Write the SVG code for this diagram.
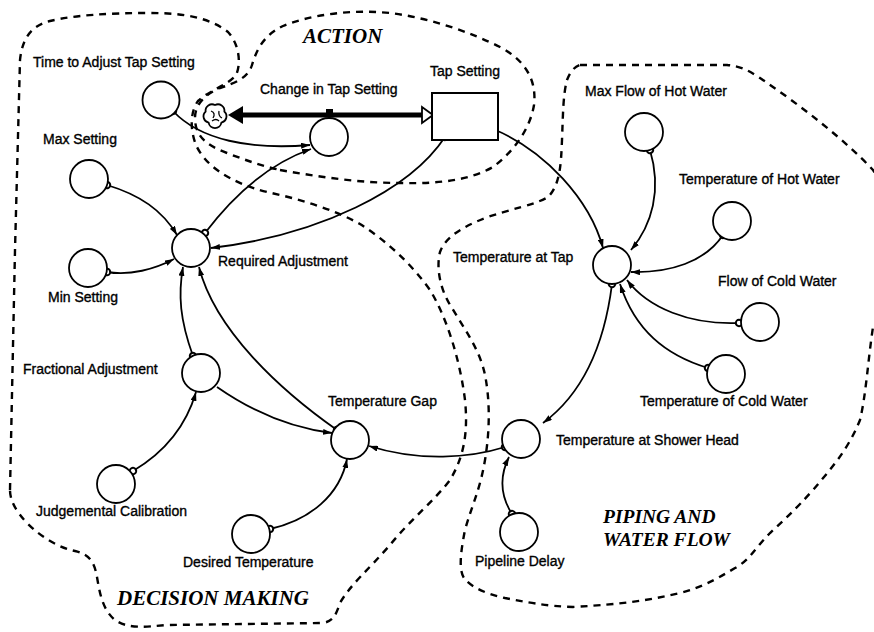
<svg xmlns="http://www.w3.org/2000/svg" width="874" height="632" viewBox="0 0 874 632">
<style>
  .bg { fill: #ffffff; }
  .aux { fill: #ffffff; stroke: #000; stroke-width: 1.8; }
  .lbl { font-family: "Liberation Sans", Arial, sans-serif; font-size: 14px; fill: #000; stroke: #000; stroke-width: 0.35; }
  .sector { font-family: "Liberation Serif", "Times New Roman", serif; font-size: 21px; font-weight: bold; font-style: italic; fill: #000; }
  .sector2 { font-family: "Liberation Serif", "Times New Roman", serif; font-size: 19.5px; font-weight: bold; font-style: italic; fill: #000; }
  .bound { fill: none; stroke: #000; stroke-width: 2.4; stroke-dasharray: 7 6; stroke-linecap: butt; }
  .link { fill: none; stroke: #000; stroke-width: 1.8; marker-start: url(#src); marker-end: url(#arr); }
  .linkn { fill: none; stroke: #000; stroke-width: 1.8; marker-end: url(#arr); }
</style>
<defs>
  <marker id="arr" markerUnits="userSpaceOnUse" viewBox="0 0 9 6" markerWidth="9" markerHeight="6" refX="9" refY="3" orient="auto">
    <path d="M0,0 L9,3 L0,6 z" fill="#000"/>
  </marker>
  <marker id="src" markerUnits="userSpaceOnUse" viewBox="-5 -5 10 10" markerWidth="10" markerHeight="10" refX="0" refY="0" orient="auto">
    <circle cx="0" cy="0" r="3.2" fill="#fff" stroke="#000" stroke-width="2"/>
  </marker>
</defs>
<rect class="bg" x="0" y="0" width="874" height="632"/>

<g id="boundaries">
  <path id="decision-boundary" class="bound" d="M10,490 L15,250 L20,60 C22,40 30,26 50,21 C75,15 110,13 150,13 C185,13 210,18 228,32 C240,45 241,65 236,75 C228,85 210,90 198,101 C190,112 190,130 196,145 C205,165 228,182 267,192 C300,199 335,210 360,224 C385,240 410,262 430,290 C447,318 460,360 465,400 C468,430 465,455 450,480 C435,500 410,520 390,545 C370,568 350,585 340,603 C336,615 333,622 322,623 L167,625 C145,627 128,629 115,620 C103,610 100,595 97,577 C94,560 88,554 75,551 C60,548 42,538 27,523 C15,510 10,500 10,490 Z"/>
  <path id="action-boundary" class="bound" d="M280,170 C320,177 360,183 400,183 C440,184 470,180 493,167 C512,153 530,130 534,105 C537,80 525,60 500,47 C470,32 430,18 390,13 C350,9 310,15 283,26 C262,36 256,52 252,65 C248,78 235,83 220,88 C204,95 195,105 195,118 C195,135 205,145 227,153 C245,160 262,166 280,170 Z"/>
  <path id="piping-boundary" class="bound" d="M580,65 L727,65 C740,66 748,70 760,78 C800,105 845,140 873,170 C895,200 900,290 873,327 C868,360 866,395 860,420 C848,450 830,470 813,490 C795,510 782,522 770,533 C755,548 750,560 735,568 C715,580 700,588 680,593 C650,600 625,604 573,607 C545,606 525,602 505,598 C487,594 472,588 464,578 C459,570 460,555 465,530 C472,505 480,490 485,460 C490,430 490,400 485,375 C480,350 465,330 452,308 C440,290 436,268 440,252 C445,238 460,228 485,218 C510,209 535,205 548,197 C560,185 561,165 562,140 C563,115 563,95 567,80 C570,72 574,67 580,65 Z"/>
</g>

<g id="connectors">
  <!-- flow pipe -->
  <line x1="243" y1="115" x2="422" y2="115" stroke="#000" stroke-width="5"/>
  <polygon points="228,115 243,106 243,124" fill="#000"/>
  <polygon points="422,107 433,115 422,123" fill="#fff" stroke="#000" stroke-width="1.8"/>
  <rect x="326" y="109" width="7" height="5" fill="#000"/>
  <line x1="329.5" y1="114" x2="329.5" y2="118" stroke="#000" stroke-width="1.8"/>

  <path class="link" d="M173,111 C200,140 250,150 310,145"/>
  <path class="link" d="M205,233 C230,200 265,165 311,149"/>
  <path class="link" d="M445,137 C410,190 320,235 211,248"/>
  <path class="link" d="M493,129 C545,150 590,200 603,248"/>
  <path class="link" d="M650,150 C662,190 652,225 631,250"/>
  <path class="link" d="M723,235 C705,262 670,273 631,272"/>
  <path class="link" d="M739,323 C690,325 648,308 627,280"/>
  <path class="link" d="M708,368 C665,355 635,330 620,284"/>
  <path class="link" d="M612,284 C605,340 585,392 543,423"/>
  <path class="link" d="M505,447 C470,458 420,462 369,446"/>
  <path class="link" d="M512,514 C500,495 500,475 509,457"/>
  <path class="link" d="M337,430 C280,390 215,330 199,267"/>
  <path class="link" d="M193,356 C180,320 178,295 183,267"/>
  <path class="linkn" d="M217,387 C250,410 290,428 332,433"/>
  <path class="link" d="M133,471 C160,455 185,430 196,392"/>
  <path class="link" d="M270,529 C310,520 340,495 347,459"/>
  <path class="link" d="M107,185 C140,195 162,210 177,235"/>
  <path class="link" d="M107,272 C130,276 155,269 174,259"/>
</g>

<g id="time-to-adjust"><circle class="aux" cx="161" cy="100" r="18.5"/><text class="lbl" x="33" y="67">Time to Adjust Tap Setting</text></g>
<g id="cloud"><path d="M205.6,111.6 A6.5,6.5 0 0 1 215,105 A6.5,6.5 0 0 1 224.4,111.6 A6.5,6.5 0 0 1 221.4,122.7 A6.5,6.5 0 0 1 208.6,122.7 A6.5,6.5 0 0 1 205.6,111.6 Z" fill="#fff" stroke="#000" stroke-width="1.8"/><path d="M211,111 Q216,113 213,118 M219,111 Q218,116 222,118 M212,121 Q216,118 219,121" fill="none" stroke="#000" stroke-width="1.3"/></g>
<g id="change-in-tap-setting"><circle class="aux" cx="329" cy="137" r="19"/><text class="lbl" x="260" y="94">Change in Tap Setting</text></g>
<g id="tap-setting"><rect x="432" y="93" width="66" height="47" fill="#fff" stroke="#000" stroke-width="2"/><text class="lbl" x="430" y="76">Tap Setting</text></g>
<g id="max-setting"><circle class="aux" cx="89" cy="179" r="19"/><text class="lbl" x="43" y="144">Max Setting</text></g>
<g id="required-adjustment"><circle class="aux" cx="191" cy="248" r="19"/><text class="lbl" x="218" y="266">Required Adjustment</text></g>
<g id="min-setting"><circle class="aux" cx="88" cy="268" r="19"/><text class="lbl" x="48" y="302">Min Setting</text></g>
<g id="fractional-adjustment"><circle class="aux" cx="201" cy="373" r="19"/><text class="lbl" x="23" y="374">Fractional Adjustment</text></g>
<g id="temperature-gap"><circle class="aux" cx="350" cy="440" r="19"/><text class="lbl" x="328" y="406">Temperature Gap</text></g>
<g id="judgemental-calibration"><circle class="aux" cx="116" cy="484" r="19"/><text class="lbl" x="36" y="516">Judgemental Calibration</text></g>
<g id="desired-temperature"><circle class="aux" cx="251" cy="534" r="19"/><text class="lbl" x="183" y="567">Desired Temperature</text></g>
<g id="temperature-at-shower-head"><circle class="aux" cx="521" cy="439" r="19"/><text class="lbl" x="556" y="445">Temperature at Shower Head</text></g>
<g id="pipeline-delay"><circle class="aux" cx="519" cy="532" r="19"/><text class="lbl" x="475" y="566">Pipeline Delay</text></g>
<g id="temperature-at-tap"><circle class="aux" cx="612" cy="265" r="19"/><text class="lbl" x="453" y="262">Temperature at Tap</text></g>
<g id="max-flow-hot"><circle class="aux" cx="644" cy="132" r="19"/><text class="lbl" x="585" y="96">Max Flow of Hot Water</text></g>
<g id="temperature-hot"><circle class="aux" cx="732" cy="221" r="19"/><text class="lbl" x="679" y="184">Temperature of Hot Water</text></g>
<g id="flow-cold"><circle class="aux" cx="760" cy="322" r="19"/><text class="lbl" x="718" y="286">Flow of Cold Water</text></g>
<g id="temperature-cold"><circle class="aux" cx="726" cy="374" r="19"/><text class="lbl" x="640" y="406">Temperature of Cold Water</text></g>

<g id="sector-labels">
  <text class="sector" x="303" y="43">ACTION</text>
  <text class="sector" x="117" y="605">DECISION MAKING</text>
  <text class="sector2" x="603" y="523">PIPING AND</text>
  <text class="sector2" x="603" y="546">WATER FLOW</text>
</g>
</svg>
